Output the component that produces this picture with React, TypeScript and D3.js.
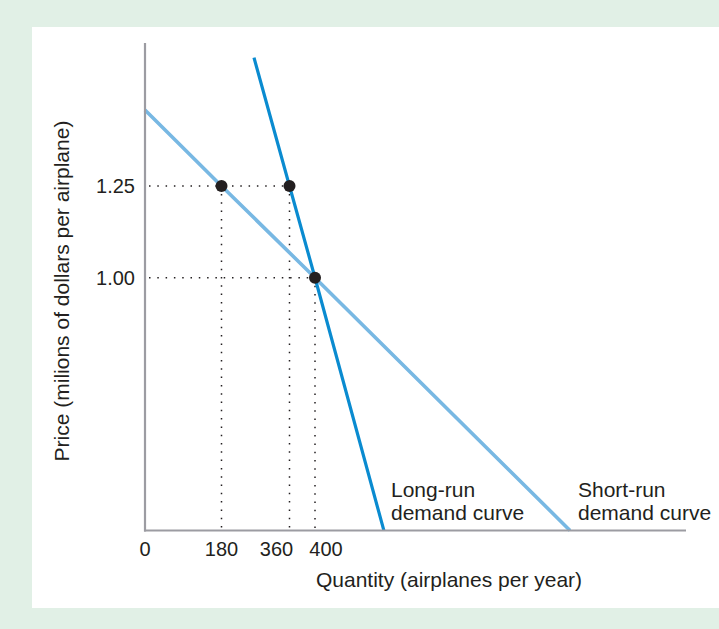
import React from "react";
import * as d3 from "d3";

// ---- data ----
const qTicks = [0, 180, 360, 400];
const pTicks = [1.25, 1.0];
const pTickLabels = ["1.25", "1.00"];
const shortRunQ = [0, 180, 400, 800];
const shortRunP = [1.457, 1.25, 1.0, 0.311];
const longRunQ = [266, 360, 400, 508];
const longRunP = [1.6, 1.25, 1.0, 0.311];
const pointQ = [180, 360, 400];
const pointP = [1.25, 1.25, 1.0];
const curveLabels = [
  ["Long-run", "demand curve"],
  ["Short-run", "demand curve"],
];
const xTitle = "Quantity (airplanes per year)";
const yTitle = "Price (milions of dollars per airplane)";

// ---- layout ----
const W = 719;
const H = 629;
const axisLeft = 145;
const axisBottom = 530.5;
const axisTop = 43;
const axisRight = 686;
const FONT = "'Liberation Sans', Arial, Helvetica, sans-serif";
const TXT = "#231f20";
const tickNudge = [0, 0, -13, 11];

export default function App() {
  const x = d3
    .scaleLinear()
    .domain(qTicks)
    .range([axisLeft, 221.5, 289.5, 315]);
  const y = d3.scaleLinear().domain([1.0, 1.25]).range([277.7, 186]);

  const line = d3
    .line<[number, number]>()
    .x((d) => x(d[0]))
    .y((d) => y(d[1]));

  const shortRun = shortRunQ.map((q, i) => [q, shortRunP[i]] as [number, number]);
  const longRun = longRunQ.map((q, i) => [q, longRunP[i]] as [number, number]);

  const dotted = { stroke: TXT, strokeWidth: 1.5, strokeDasharray: "1.5 6.8", fill: "none" };

  return (
    <svg
      width={W}
      height={H}
      style={{ position: "absolute", left: 0, top: 0, display: "block" }}
      fontFamily={FONT}
    >
      <rect x={0} y={0} width={W} height={H} fill="#e1f0e6" />
      <rect x={32} y={27} width={W - 32} height={608 - 27} fill="#ffffff" />

      {/* dotted guides */}
      {pointQ.map((q, i) => (
        <line
          key={"v" + i}
          x1={x(q)}
          x2={x(q)}
          y1={y(pointP[i]) + 8}
          y2={axisBottom - 2}
          style={dotted}
        />
      ))}
      {pTicks.map((p, i) => {
        const maxQ = d3.max(pointQ.filter((_, j) => pointP[j] === p)) as number;
        return (
          <line
            key={"h" + i}
            x1={axisLeft + 4}
            x2={x(maxQ) - 6}
            y1={y(p)}
            y2={y(p)}
            style={dotted}
          />
        );
      })}

      {/* curves */}
      <path d={line(shortRun) || ""} fill="none" stroke="#78b8e3" strokeWidth={3.6} />
      <path d={line(longRun) || ""} fill="none" stroke="#0a8bd0" strokeWidth={3.2} />

      {/* axes */}
      <line x1={axisLeft} x2={axisLeft} y1={axisTop} y2={axisBottom + 1} stroke="#9c9ca2" strokeWidth={2.2} />
      <line x1={axisLeft - 1} x2={axisRight} y1={axisBottom} y2={axisBottom} stroke="#9c9ca2" strokeWidth={2.2} />

      {/* points */}
      {pointQ.map((q, i) => (
        <circle key={"c" + i} cx={x(q)} cy={y(pointP[i])} r={6} fill={TXT} />
      ))}

      {/* tick labels */}
      {qTicks.map((q, i) => (
        <text
          key={"xt" + i}
          x={x(q) + tickNudge[i]}
          y={556}
          textAnchor="middle"
          fontSize={20}
          fill={TXT}
        >
          {q}
        </text>
      ))}
      {pTicks.map((p, i) => (
        <text
          key={"yt" + i}
          x={135}
          y={y(p) + 7}
          textAnchor="end"
          fontSize={20}
          fill={TXT}
        >
          {pTickLabels[i]}
        </text>
      ))}

      {/* curve labels */}
      {curveLabels.map((lines, i) => {
        const lx = i === 0 ? 391 : 578;
        return (
          <text key={"cl" + i} x={lx} y={497} fontSize={21} fill={TXT}>
            {lines.map((t, j) => (
              <tspan key={j} x={lx} dy={j === 0 ? 0 : 23}>
                {t}
              </tspan>
            ))}
          </text>
        );
      })}

      {/* axis titles */}
      <text x={449} y={587} textAnchor="middle" fontSize={21} fill={TXT}>
        {xTitle}
      </text>
      <text
        transform="translate(69,291) rotate(-90)"
        textAnchor="middle"
        fontSize={21}
        fill={TXT}
      >
        {yTitle}
      </text>
    </svg>
  );
}
